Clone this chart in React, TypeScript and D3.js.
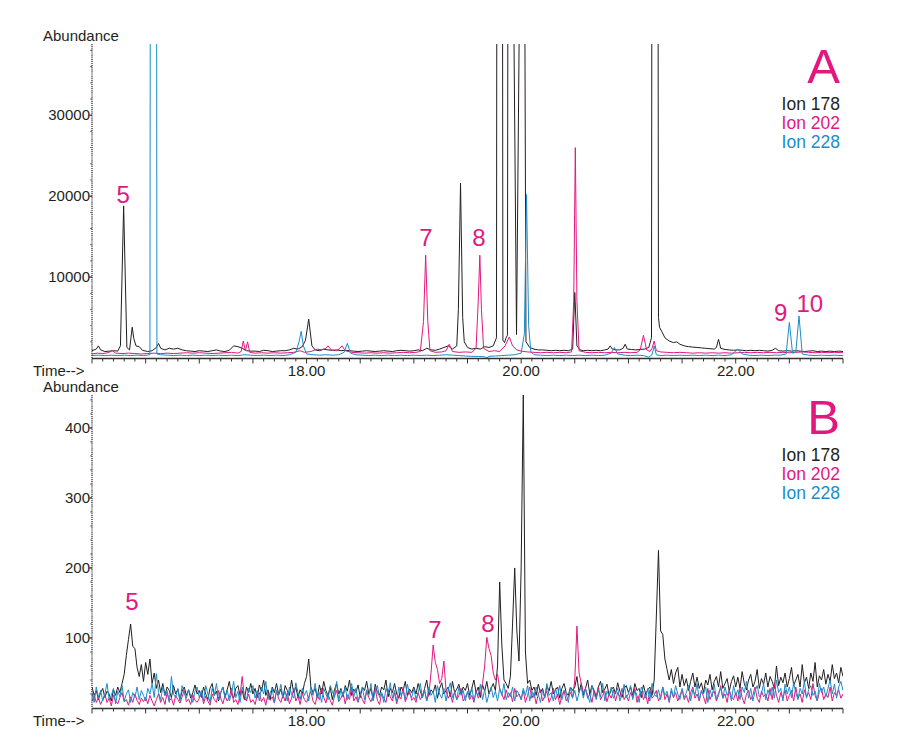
import React from "react";
import * as d3 from "d3";

// ---------- data ----------
const T_START = 16;
const T_END = 23;
const B_STEP = 0.02;

const xTickValues = [18, 20, 22];
const xTickLabels = ["18.00", "20.00", "22.00"];
const yTicksA = [10000, 20000, 30000];
const yTicksB = [100, 200, 300, 400];
const yTopA = 38800;
const yTopB = 447;

const ionNames = ["Ion 178", "Ion 202", "Ion 228"];
const ionColors = ["#231f20", "#e2187f", "#1b8dcc"];

// Panel A: [time, abundance]
const ion178A: [number, number][] = [
  [16.00,900],[16.04,1100],[16.06,1500],[16.08,1000],[16.12,800],[16.16,850],[16.20,900],[16.24,850],[16.265,1500],[16.295,18800],[16.325,1300],[16.35,1000],[16.375,3800],[16.39,2400],[16.41,1500],[16.44,1400],[16.47,950],[16.52,800],[16.56,900],[16.60,1300],[16.62,1800],[16.64,1200],[16.68,1000],[16.72,1200],[16.76,1100],[16.80,1200],[16.84,1000],[16.88,900],[16.92,850],[16.96,800],
  [17.00,900],[17.04,850],[17.08,800],[17.12,900],[17.16,1000],[17.20,850],[17.24,800],[17.28,950],[17.32,1500],[17.36,1400],[17.40,1200],[17.44,900],[17.48,850],[17.52,850],[17.56,800],[17.60,950],[17.64,900],[17.68,800],[17.72,850],[17.76,900],[17.80,900],[17.84,1000],[17.88,1200],[17.92,1100],[17.96,1400],[17.99,2200],[18.02,4800],[18.05,1500],[18.08,1000],[18.12,900],[18.16,1100],[18.20,1000],[18.24,950],[18.28,1000],[18.32,900],[18.36,950],[18.40,900],[18.44,850],[18.48,800],[18.52,850],[18.56,900],[18.60,850],[18.64,800],[18.68,850],[18.72,900],[18.76,850],[18.80,800],[18.84,900],[18.88,950],[18.92,900],[18.96,850],
  [19.00,900],[19.04,1000],[19.08,900],[19.12,1200],[19.16,1000],[19.20,950],[19.24,1100],[19.28,1300],[19.32,1500],[19.36,1100],[19.40,1500],[19.415,6000],[19.435,21600],[19.455,5000],[19.47,2000],[19.50,1300],[19.54,1100],[19.58,1200],[19.62,1100],[19.66,1400],[19.70,1300],[19.74,1500],[19.77,2500],[19.80,400000],[19.83,2200],[19.845,1900],[19.86,2500],[19.872,2800],[19.878,60000],[19.92,60000],[19.957,2900],[19.995,60000],[20.03,60000],[20.045,2000],
  [20.08,1300],[20.12,1100],[20.16,1000],[20.20,1000],[20.24,950],[20.28,900],[20.32,950],[20.36,900],[20.40,950],[20.44,900],[20.48,1100],[20.50,8100],[20.52,1500],[20.55,1000],[20.58,900],[20.62,950],[20.66,900],[20.70,950],[20.74,900],[20.78,1000],[20.81,1100],[20.83,1500],[20.85,1100],[20.88,1000],[20.92,1000],[20.95,1200],[20.97,1700],[20.99,1100],
  [21.03,1050],[21.07,1000],[21.11,1050],[21.15,1100],[21.19,1300],[21.215,2500],[21.245,400000],[21.28,5000],[21.29,3800],[21.31,3300],[21.34,2500],[21.38,2100],[21.42,1900],[21.45,2000],[21.48,1700],[21.52,1500],[21.56,1400],[21.60,1350],[21.64,1300],[21.68,1250],[21.72,1200],[21.76,1150],[21.80,1100],[21.82,1300],[21.84,2300],[21.86,1200],[21.90,1050],[21.94,1000],[21.98,950],
  [22.02,1000],[22.06,950],[22.10,900],[22.14,950],[22.18,900],[22.22,950],[22.26,900],[22.30,850],[22.34,950],[22.37,1200],[22.40,900],[22.44,850],[22.48,900],[22.52,850],[22.56,900],[22.60,850],[22.64,800],[22.68,850],[22.72,900],[22.76,800],[22.80,850],[22.84,800],[22.88,850],[22.92,800],[22.96,850],[23.00,800]
];

const ion202A: [number, number][] = [
  [16.00,500],[16.05,600],[16.10,550],[16.15,650],[16.19,900],[16.22,600],[16.28,550],[16.34,600],[16.40,550],[16.46,500],[16.52,550],[16.58,600],[16.64,550],[16.70,600],[16.76,550],[16.82,600],[16.88,650],[16.94,600],
  [17.00,650],[17.06,600],[17.12,550],[17.18,600],[17.24,650],[17.30,700],[17.36,600],[17.39,800],[17.41,2100],[17.43,900],[17.45,2000],[17.47,700],[17.52,600],[17.58,650],[17.64,600],[17.70,650],[17.76,600],[17.82,650],[17.88,700],[17.94,900],[17.98,700],
  [18.04,800],[18.10,1100],[18.14,1000],[18.18,1200],[18.20,1500],[18.23,1000],[18.28,900],[18.31,1200],[18.33,1500],[18.36,900],[18.42,700],[18.48,650],[18.54,600],[18.60,650],[18.66,600],[18.72,650],[18.78,600],[18.84,650],[18.90,700],[18.96,650],
  [19.02,700],[19.06,800],[19.09,4500],[19.11,12700],[19.13,4500],[19.15,900],[19.20,700],[19.26,750],[19.30,900],[19.33,1700],[19.36,800],[19.42,700],[19.48,750],[19.54,700],[19.58,1200],[19.60,7000],[19.615,12700],[19.63,6000],[19.65,1200],[19.70,800],[19.75,900],[19.80,800],[19.85,1500],[19.89,2600],[19.92,1500],[19.96,1000],
  [20.00,850],[20.06,750],[20.12,700],[20.18,650],[20.24,700],[20.30,650],[20.36,700],[20.42,650],[20.47,750],[20.49,7000],[20.505,26000],[20.52,7000],[20.54,900],[20.60,700],[20.66,650],[20.72,700],[20.78,650],[20.84,700],[20.90,650],[20.96,700],
  [21.02,650],[21.08,700],[21.11,1000],[21.14,2800],[21.17,1000],[21.20,800],[21.22,1200],[21.24,2100],[21.26,900],[21.30,750],[21.36,700],[21.42,650],[21.48,700],[21.54,650],[21.60,600],[21.66,650],[21.72,600],[21.78,650],[21.84,600],[21.90,650],[21.96,600],
  [22.02,650],[22.08,700],[22.14,650],[22.20,700],[22.26,650],[22.32,700],[22.38,650],[22.44,700],[22.50,650],[22.56,700],[22.62,750],[22.68,700],[22.74,650],[22.80,700],[22.86,650],[22.92,700],[23.00,650]
];

const ion228A: [number, number][] = [
  [16.00,300],[16.06,350],[16.12,300],[16.18,350],[16.24,300],[16.30,350],[16.36,300],[16.42,350],[16.48,300],[16.54,400],[16.575,500000],[16.605,500],[16.64,400],[16.70,350],[16.76,300],[16.82,350],[16.88,300],[16.94,350],
  [17.00,300],[17.06,350],[17.12,300],[17.18,350],[17.24,300],[17.30,350],[17.36,300],[17.42,400],[17.48,350],[17.54,300],[17.60,350],[17.66,300],[17.72,350],[17.78,300],[17.84,400],[17.90,700],[17.93,2000],[17.95,3300],[17.97,1500],
  [18.00,500],[18.06,400],[18.12,350],[18.18,400],[18.24,350],[18.30,400],[18.35,700],[18.38,1800],[18.41,600],[18.46,400],[18.52,350],[18.58,300],[18.64,350],[18.70,300],[18.76,350],[18.82,300],[18.88,350],[18.94,300],
  [19.00,350],[19.06,300],[19.12,350],[19.18,300],[19.24,350],[19.30,400],[19.36,350],[19.42,300],[19.48,250],[19.54,200],[19.60,200],[19.66,150],[19.68,0],[19.70,200],[19.76,250],[19.82,300],[19.88,350],[19.94,400],
  [20.00,600],[20.03,3000],[20.05,20200],[20.07,4000],[20.09,800],[20.12,400],[20.18,350],[20.24,300],[20.30,350],[20.36,300],[20.42,350],[20.48,300],[20.54,350],[20.60,300],[20.66,350],[20.72,300],[20.78,350],[20.84,600],[20.87,1300],[20.90,500],[20.96,350],
  [21.02,300],[21.08,350],[21.14,300],[21.19,100],[21.22,400],[21.24,1500],[21.26,400],[21.30,300],[21.36,350],[21.42,300],[21.48,350],[21.54,300],[21.60,350],[21.66,300],[21.72,350],[21.78,300],[21.84,350],[21.90,300],[21.96,400],
  [22.02,1100],[22.06,500],[22.12,350],[22.18,300],[22.24,350],[22.30,300],[22.36,350],[22.42,350],[22.47,500],[22.50,4400],[22.53,600],[22.56,700],[22.59,5200],[22.62,500],[22.68,350],[22.74,300],[22.80,350],[22.86,300],[22.92,350],[23.00,300]
];

// Panel B: abundance sampled every B_STEP minutes from T_START
const ion178B: number[] = [
  30,18,25,12,22,28,15,24,20,10,26,18,30,22,35,48,75,98,120,88,85,58,45,62,38,
  65,48,70,35,50,28,40,22,35,18,30,25,15,32,20,27,12,24,30,18,26,14,22,33,20,
  25,15,30,20,12,28,35,18,24,10,22,30,16,26,38,20,14,28,32,18,25,12,30,22,35,
  20,28,15,33,24,40,18,26,12,30,22,35,19,27,14,32,25,18,40,22,30,15,26,20,35,
  45,70,30,22,28,15,33,20,38,25,18,30,12,26,35,20,28,16,32,24,40,18,27,22,33,
  15,30,25,38,20,28,12,34,22,18,30,26,40,16,28,22,35,20,14,30,25,38,18,27,22,
  30,20,35,24,15,28,40,18,26,22,33,14,28,36,20,25,30,16,38,22,27,34,20,30,25,
  35,18,28,40,22,30,15,33,24,38,20,28,35,25,60,180,90,40,35,28,45,120,200,110,67,
  200,447,80,35,40,25,30,18,34,22,28,15,32,24,38,20,26,30,14,28,35,22,18,30,25,
  30,45,22,35,18,28,40,20,32,25,15,30,38,22,27,34,18,26,30,20,36,24,15,28,32,
  22,30,18,35,25,28,15,33,20,26,30,18,40,130,225,110,105,70,55,40,55,35,50,58,30,
  48,32,42,25,38,50,30,44,28,36,22,40,33,48,26,38,45,30,52,28,35,42,24,38,46,
  30,44,28,52,35,26,40,48,30,38,55,28,42,34,50,30,45,38,28,60,32,44,36,50,30,
  42,58,32,40,48,30,62,36,44,28,50,38,65,30,46,40,55,34,48,38,62,42,50,36,58,
  45
];

const ion202B: number[] = [
  10,18,8,15,5,12,20,8,14,3,18,10,6,15,22,9,12,4,16,8,20,11,5,14,9,
  15,6,18,10,3,12,20,8,15,5,22,10,14,4,18,12,7,16,25,9,13,5,19,11,8,
  14,22,6,17,10,4,20,12,8,25,14,6,18,10,15,28,8,12,5,18,45,15,10,20,8,
  12,5,18,22,9,15,4,20,11,16,7,25,13,8,19,10,22,6,14,28,10,17,5,21,12,
  8,16,24,10,5,18,12,28,15,7,20,11,4,17,25,9,14,22,6,19,12,30,10,16,8,
  20,12,6,24,15,9,18,28,11,5,21,14,8,26,16,10,22,6,18,13,30,9,17,24,11,
  15,8,22,12,18,26,10,20,50,90,65,55,35,42,67,25,14,20,8,24,12,18,28,10,16,
  22,12,18,8,25,14,20,35,60,101,85,75,50,40,48,28,20,12,26,15,22,9,28,16,20,
  12,25,8,18,30,14,22,6,20,26,10,17,24,8,15,28,12,20,5,18,25,10,16,22,14,
  40,117,50,35,22,28,14,20,8,25,16,30,12,18,24,9,20,14,26,10,22,16,28,12,18,
  10,22,15,28,8,18,24,12,20,6,26,14,18,25,10,16,30,12,20,8,24,15,22,10,18,
  26,12,18,8,22,30,14,20,10,25,16,6,28,12,20,24,10,18,32,14,20,8,26,16,12,
  22,10,28,15,6,20,25,12,18,30,14,8,24,16,20,10,28,12,35,18,8,22,14,26,10,
  18,25,10,30,14,20,8,26,16,22,12,35,18,10,24,28,12,20,15,30,10,22,18,26,14,
  20
];

const ion228B: number[] = [
  22,8,30,15,25,10,20,35,12,18,28,6,24,16,32,10,20,26,8,22,15,30,12,25,18,
  10,28,20,35,15,49,22,12,30,18,25,8,45,20,15,28,10,32,22,14,26,18,8,24,30,
  15,25,10,32,20,8,28,18,35,12,22,30,14,26,10,20,38,15,24,8,30,18,12,28,22,
  32,14,25,10,30,20,38,12,22,28,8,26,18,34,15,24,10,30,20,14,36,22,12,28,18,
  25,10,30,18,35,14,22,8,28,20,12,32,24,15,38,10,26,18,30,12,22,35,16,28,10,
  20,30,12,26,18,35,10,24,32,15,22,8,28,20,36,14,25,10,30,18,24,12,34,20,15,
  28,12,22,35,15,25,10,30,18,24,8,32,20,14,28,10,26,36,15,22,12,30,18,25,10,
  24,14,30,10,22,18,34,12,26,8,20,30,15,24,10,28,18,35,12,22,16,30,10,25,20,
  12,28,18,32,10,24,15,30,20,8,26,14,35,18,22,10,28,16,32,12,25,20,8,30,15,
  25,10,22,30,14,28,18,8,32,20,12,26,16,35,10,24,18,30,14,22,28,10,20,34,15,
  20,32,12,25,18,8,30,22,14,28,10,35,20,16,26,12,30,18,24,10,28,15,32,20,12,
  28,15,22,32,10,26,18,35,12,24,20,30,8,26,16,34,12,22,28,14,30,18,25,10,32,
  18,26,12,30,22,38,14,28,10,24,32,16,20,35,12,26,18,30,14,40,22,28,10,34,20,
  30,15,36,22,12,28,20,38,14,26,32,18,24,10,35,22,30,16,28,40,20,34,14,30,38,
  25
];

// peak annotations: [label, time, abundance of text baseline]
const peakLabelsA: [string, number, number][] = [
  ["5", 16.29, 19200], ["7", 19.113, 13880], ["8", 19.607, 13880], ["9", 22.42, 4625], ["10", 22.69, 5740]
];
const peakLabelsB: [string, number, number][] = [
  ["5", 16.373, 140], ["7", 19.197, 100], ["8", 19.691, 108]
];

// ---------- layout ----------
const W = 910, H = 744;
const X0 = 92, X1 = 843;
const FONT = "'Liberation Sans', Arial, Helvetica, sans-serif";
const LABEL_COLOR = "#e2187f";

type PanelProps = {
  id: string;
  letter: string;
  top: number;
  base: number;
  yMax: number;
  yTicks: number[];
  minorStep: number;
  series: [number, number][][];
  labels: [string, number, number][];
  width: number;
};

function Panel(p: PanelProps) {
  const x = d3.scaleLinear().domain([T_START, T_END]).range([X0, X1]);
  const y = d3.scaleLinear().domain([0, p.yMax]).range([p.base, p.top]);
  const line = d3.line<[number, number]>().x((d) => x(d[0])).y((d) => y(d[1]));
  const minorX = d3.range(0, Math.round((T_END - T_START) / 0.1) + 1).map((i) => ({ t: T_START + i * 0.1, major: i % 5 === 0 }));
  const minorY = d3.range(p.minorStep, p.yMax, p.minorStep);
  const axisY = p.base + 0.5;
  const legendTop = p.top;
  return (
    <g>
      <defs>
        <clipPath id={"clip" + p.id}>
          <rect x={X0} y={p.top} width={X1 - X0} height={p.base - p.top + 2} />
        </clipPath>
      </defs>
      <g clipPath={`url(#clip${p.id})`}>
        {p.series.map((s, i) => (
          <path key={i} d={line(s) || ""} fill="none" stroke={ionColors[i]} strokeWidth={p.width} strokeLinejoin="round" />
        ))}
      </g>
      {/* y axis */}
      <line x1={X0} x2={X0} y1={p.top} y2={axisY} stroke="#333" strokeWidth={1.3} strokeDasharray="1.2 0.9" />
      {minorY.map((v) => (
        <line key={"my" + v} x1={X0 - 2} x2={X0} y1={y(v)} y2={y(v)} stroke="#555" strokeWidth={0.8} />
      ))}
      {p.yTicks.map((v) => (
        <g key={"yt" + v}>
          <line x1={X0 - 3} x2={X0} y1={y(v)} y2={y(v)} stroke="#333" strokeWidth={1} />
          <text x={X0 - 2} y={y(v)} dy="0.35em" textAnchor="end" fontSize={15} fontFamily={FONT} fill="#231f20">{v}</text>
        </g>
      ))}
      <text x={43} y={p.top - 3} fontSize={15} fontFamily={FONT} fill="#231f20">Abundance</text>
      {/* x axis */}
      <line x1={X0} x2={X1} y1={axisY} y2={axisY} stroke="#333" strokeWidth={1.5} />
      {minorX.map((d, i) => (
        <line key={"mx" + i} x1={x(d.t)} x2={x(d.t)} y1={axisY} y2={axisY + (d.major ? 5 : 3)} stroke="#333" strokeWidth={1} />
      ))}
      {xTickValues.map((t, i) => (
        <text key={"xt" + t} x={x(t)} y={axisY + 17} textAnchor="middle" fontSize={15} fontFamily={FONT} fill="#231f20">{xTickLabels[i]}</text>
      ))}
      <text x={33} y={axisY + 17} fontSize={15} fontFamily={FONT} fill="#231f20">Time--&gt;</text>
      {/* peak labels */}
      {p.labels.map(([s, t, v]) => (
        <text key={"pl" + s} x={x(t)} y={y(v)} textAnchor="middle" fontSize={24} fontFamily={FONT} fill={LABEL_COLOR}>{s}</text>
      ))}
      {/* legend */}
      <text x={840} y={legendTop + 39} textAnchor="end" fontSize={49} fontFamily={FONT} fill={LABEL_COLOR}>{p.letter}</text>
      {ionNames.map((n, i) => (
        <text key={n} x={840} y={legendTop + 65.5 + i * 19} textAnchor="end" fontSize={17.5} fontFamily={FONT} fill={ionColors[i]}>{n}</text>
      ))}
    </g>
  );
}

function toPoints(vals: number[]): [number, number][] {
  return vals.map((v, i) => [T_START + i * B_STEP, v]);
}

export default function App() {
  const seriesA = [ion178A, ion202A, ion228A];
  const seriesB = [toPoints(ion178B), toPoints(ion202B), toPoints(ion228B)];
  return (
    <svg width={W} height={H} viewBox={`0 0 ${W} ${H}`} style={{ position: "absolute", left: 0, top: 0, background: "#fff" }}>
      <rect width={W} height={H} fill="#fff" />
      <Panel id="A" letter="A" top={44} base={358} yMax={yTopA} yTicks={yTicksA} minorStep={2000} series={seriesA} labels={peakLabelsA} width={1} />
      <Panel id="B" letter="B" top={395} base={708} yMax={yTopB} yTicks={yTicksB} minorStep={20} series={seriesB} labels={peakLabelsB} width={1} />
    </svg>
  );
}
